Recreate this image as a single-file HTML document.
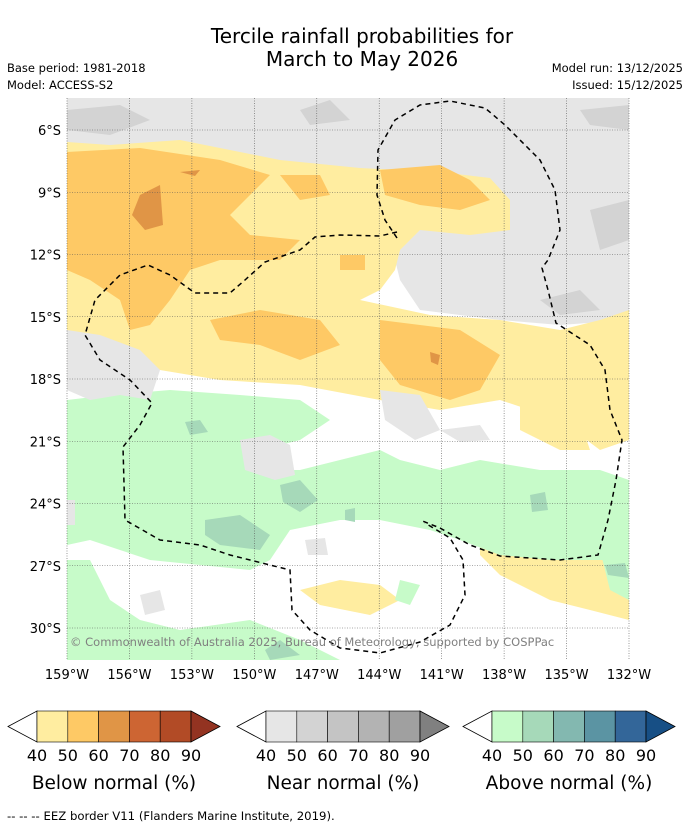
<!DOCTYPE html>
<html><head><meta charset="utf-8"><style>
body{margin:0;background:#fff;font-family:"DejaVu Sans","Liberation Sans",sans-serif}
svg text{font-family:"DejaVu Sans","Liberation Sans",sans-serif}
</style></head><body>
<svg width="690" height="827" viewBox="0 0 690 827">
<text x="362" y="43" font-size="20" text-anchor="middle">Tercile rainfall probabilities for</text>
<text x="362" y="66" font-size="20" text-anchor="middle">March to May 2026</text>
<text x="7" y="72" font-size="11.5">Base period: 1981-2018</text>
<text x="7" y="89" font-size="11.5">Model: ACCESS-S2</text>
<text x="683" y="72" font-size="11.5" text-anchor="end">Model run: 13/12/2025</text>
<text x="683" y="89" font-size="11.5" text-anchor="end">Issued: 15/12/2025</text>
<defs><clipPath id="mc"><rect x="67" y="98" width="562" height="562"/></clipPath></defs>
<g clip-path="url(#mc)">
<rect x="67" y="98" width="562" height="562" fill="#fff"/>
<path fill="#e6e6e6" d="M67 98H629V320L560 325L500 320L420 310L400 280L390 240L330 200L260 160L67 150Z"/>
<path fill="#d3d3d3" d="M67 110L120 105L150 120L110 135L67 130Z M300 110L330 100L350 120L310 125Z M220 195L260 190L300 210L260 225Z M590 210L629 200L629 240L600 250Z M540 300L580 290L600 310L560 315Z M580 110L629 105L629 130L590 125Z"/>
<path fill="#ffeda0" d="M67 142L110 145L180 140L280 160L360 168L440 172L490 178L510 200L510 230L470 235L420 230L400 250L395 270L380 290L360 300L430 315L500 320L560 330L600 320L629 310V440L600 450L560 420L500 400L440 410L380 400L300 385L220 380L160 370L110 355L67 345Z"/>
<path fill="#ffeda0" d="M480 535L540 520L600 530L629 540V620L590 610L550 600L500 575L480 555Z M300 590L340 580L380 585L400 600L370 615L320 605Z M350 485L400 470L420 490L400 505L360 500Z M520 400L580 420L590 450L560 450L520 430Z M60 580L90 575L100 590L67 595Z"/>
<path fill="#fec965" d="M67 152L140 148L220 160L270 175L250 195L230 215L250 235L300 240L280 260L220 260L190 270L170 300L150 325L130 330L120 300L90 280L67 270Z M210 320L260 310L320 320L340 345L300 360L260 345L220 340Z M380 320L420 325L460 330L500 355L480 390L450 400L400 385L380 360Z M380 170L440 165L470 180L490 200L460 210L420 205L385 195Z M280 175L320 175L330 195L300 200Z M340 255L365 255L365 270L340 270Z M375 485L395 478L405 498L380 500Z"/>
<path fill="#e09546" d="M140 195L160 185L163 225L145 230L132 215Z M180 172L200 170L195 176Z M430 352L440 355L438 365L431 362Z"/>
<path fill="#c7fbc9" d="M67 400L110 395L170 390L240 395L300 400L330 420L300 440L260 450L270 470L300 470L340 460L380 450L400 460L440 470L480 460L540 470L600 470L629 480V560L590 560L550 560L500 555L460 540L430 530L380 520L340 520L290 530L270 560L250 570L200 565L150 560L120 550L90 540L67 545Z M67 560L90 560L110 600L140 620L180 630L250 620L300 640L340 660H67Z M600 550L629 540V600L610 590Z M400 580L420 585L410 605L395 600Z"/>
<path fill="#a6d9b9" d="M205 520L240 515L270 535L260 550L220 545L205 535Z M280 485L300 480L318 500L300 512L283 502Z M185 422L200 420L208 432L190 435Z M530 495L545 492L548 510L532 512Z M605 565L625 563L629 578L608 575Z M345 510L355 508L355 522L345 520Z M265 650L280 640L300 655L270 660Z"/>
<path fill="#e6e6e6" d="M240 440L270 435L290 445L295 475L275 480L245 470Z M67 330L100 335L140 350L160 370L150 400L120 395L90 400L67 390Z M380 390L420 395L440 430L415 440L385 420Z M305 540L325 538L328 555L308 555Z M140 595L160 590L165 610L145 615Z M67 500L75 500L75 525L67 525Z M440 430L480 425L490 440L460 442Z"/>
</g>
<g id="grid" stroke="#555" stroke-width="0.6" stroke-dasharray="1,1.5"></g>
<g fill="none" stroke="#000" stroke-width="1.5" stroke-dasharray="5,4">
<path d="M397 238L385 220L377 195L378 150L395 120L420 105L450 101L485 108L505 125L520 140L540 160L555 190L560 230L548 260L542 268L548 290L556 323L590 345L605 370L610 410L622 440L616 480L608 520L598 555L560 560L500 556L470 545L440 528L420 520"/>
<path d="M397 232L380 236L340 235L315 237L300 250L265 262L245 280L230 293L195 293L170 275L148 265L120 275L95 300L85 335L100 360L130 380L152 403L140 425L123 447L125 520L160 540L200 545L230 555L290 570L292 610L310 630L340 648L380 653L420 642L450 625L465 595L463 560L450 538L425 523"/>
</g>
<g id="axes"></g>
<text x="70" y="646" font-size="11.5" fill="#808080">© Commonwealth of Australia 2025, Bureau of Meteorology, supported by COSPPac</text>
<g id="cbars"></g>
<text x="7" y="820" font-size="11.7">--  --  -- EEZ border V11 (Flanders Marine Institute, 2019).</text>
</svg>
<script>
const lonTicks=[159,156,153,150,147,144,141,138,135,132];
const latTicks=[6,9,12,15,18,21,24,27,30];
const belowColors=["#ffeda0","#fec965","#e09546","#cd6533","#b24b26","#933321"];
const nearColors=["#e6e6e6","#d3d3d3","#c4c4c4","#b3b3b3","#a0a0a0","#808080"];
const aboveColors=["#c7fbc9","#a6d9b9","#83b8b0","#5b94a3","#336699","#174f85"];
const cbTicks=[40,50,60,70,80,90];
const NS="http://www.w3.org/2000/svg";
function xLon(l){return 67+(159-l)*562/27;}
function yLat(l){return 130+(l-6)*498/24;}
function mk(t,a,p){const e=document.createElementNS(NS,t);for(const k in a)e.setAttribute(k,a[k]);p.appendChild(e);return e;}
const grid=document.getElementById('grid'),axes=document.getElementById('axes');
lonTicks.forEach(l=>{const x=xLon(l);
const g=mk('line',{x1:x,x2:x,y1:98,y2:660},grid);


const t=mk('text',{x:x,y:679,'font-size':13,'text-anchor':'middle'},axes);t.textContent=l+'°W';

});
latTicks.forEach(l=>{const y=yLat(l);
const g=mk('line',{x1:67,x2:629,y1:y,y2:y},grid);


const t=mk('text',{x:61,y:y+5,'font-size':13,'text-anchor':'end'},axes);t.textContent=l+'°S';

});
const cb=document.getElementById('cbars');
[[belowColors,8,"Below normal (%)"],[nearColors,237,"Near normal (%)"],[aboveColors,463,"Above normal (%)"]].forEach(([cols,x0,label])=>{
const g=mk('g',{},cb);


const w=30.8,y0=711,h=31,x1=x0+29;
mk('polygon',{points:`${x0},${y0+h/2} ${x1},${y0} ${x1},${y0+h}`,fill:'#fff',stroke:'#000','stroke-width':0.8},g);
for(let i=0;i<5;i++){const r=mk('rect',{x:x1+i*w,y:y0,width:w,height:h,fill:cols[i],stroke:'#000','stroke-width':0.6},g);

}
const xe=x1+5*w;
mk('polygon',{points:`${xe},${y0} ${xe+29},${y0+h/2} ${xe},${y0+h}`,fill:cols[5],stroke:'#000','stroke-width':0.8},g);
cbTicks.forEach((v,i)=>{const t=mk('text',{x:x1+i*w,y:761,'font-size':16,'text-anchor':'middle'},g);t.textContent=v;

});
const t=mk('text',{x:x1+2.5*w,y:789,'font-size':18.5,'text-anchor':'middle'},g);t.textContent=label;

});
</script>
</body></html>
